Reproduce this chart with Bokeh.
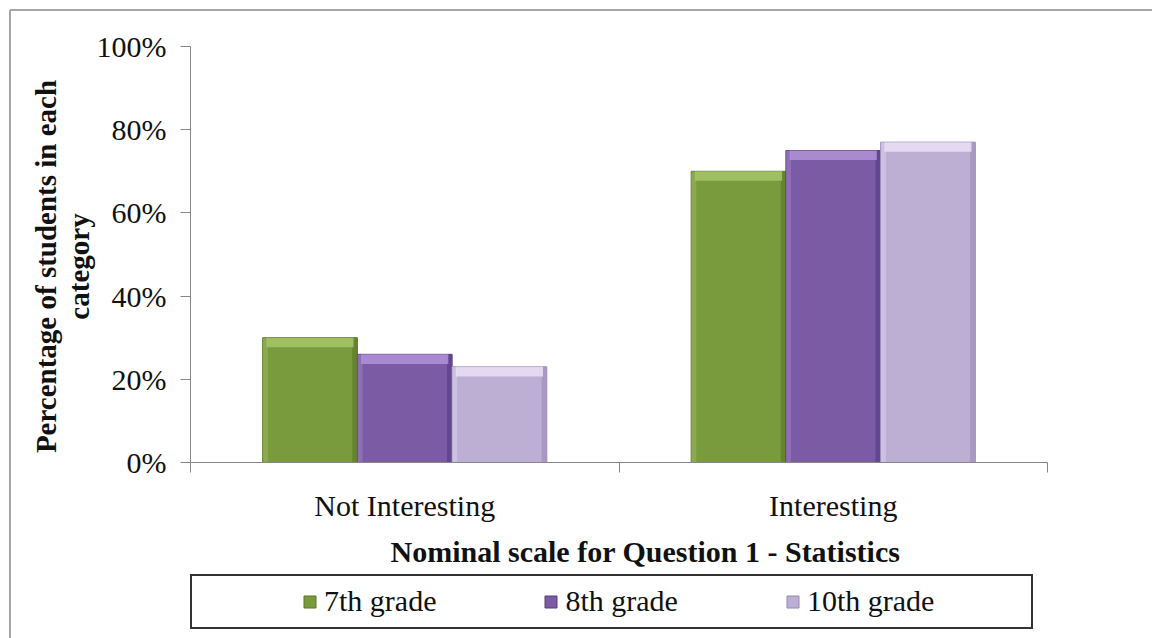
import math
from bokeh.plotting import figure
from bokeh.models import (ColumnDataSource, Range1d, FixedTicker, PrintfTickFormatter,
                          Legend, LegendItem, Label)
from bokeh.transform import dodge
from bokeh.embed import file_html
from bokeh.resources import INLINE

# ---- data ----
categories = ["Not Interesting", "Interesting"]
series = ["7th grade", "8th grade", "10th grade"]
grade7 = [30, 70]
grade8 = [26, 75]
grade10 = [23, 77]
y_ticks = [0, 20, 40, 60, 80, 100]
x_title = "Nominal scale for Question 1 - Statistics"
y_title = "Percentage of students in each\ncategory"

# ---- styles / geometry (pixels) ----
W, H = 1152, 638
AX_L, AX_R, AX_T, AX_B = 190, 1047, 46, 462   # plot area in canvas pixels
colors = ["#7a9a3e", "#7a5ba4", "#bdaed4"]
edge_colors = ["#5a7528", "#573c7c", "#9886b4"]
hi_colors = ["#aac86c", "#b596dc", "#ece4f6"]
dark_colors = ["#66832f", "#634690", "#a999c2"]
FONT = "Liberation Serif"
BAR_W = 0.221
HI = 2.3
EDGE = 0.012

n = len(categories)
x_pos = [i + 0.5 for i in range(n)]
data = dict(x=x_pos, g7=grade7, g8=grade8, g10=grade10)
for k, vals in (("g7", grade7), ("g8", grade8), ("g10", grade10)):
    data[k + "_hi"] = [v - HI for v in vals]
src = ColumnDataSource(data)

# ranges chosen so that the frame fills the canvas and the axes sit at the plot-area edges
xs = n / (AX_R - AX_L)
ys = 100 / (AX_B - AX_T)
x_range = Range1d(-AX_L * xs, n + (W - AX_R) * xs)
y_range = Range1d(-(H - AX_B) * ys, 100 + AX_T * ys)

p = figure(width=W, height=H, x_range=x_range, y_range=y_range,
           output_backend="svg", toolbar_location=None, min_border=0)
p.grid.visible = False
p.outline_line_color = None
p.background_fill_alpha = 0
p.border_fill_alpha = 0
p.styles = {
    "background": "linear-gradient(#a6a6a6,#a6a6a6) 10px 9px / 1142px 2px no-repeat, "
                  "linear-gradient(#a6a6a6,#a6a6a6) 9px 10px / 2px 628px no-repeat, white"
}

fields = ["g7", "g8", "g10"]
offsets = [-BAR_W, 0.0, BAR_W]
bar_renderers = []
for f, off, c, ec, hc, dc in zip(fields, offsets, colors, edge_colors, hi_colors, dark_colors):
    r = p.vbar(x=dodge("x", off), top=f, bottom=0, width=BAR_W, source=src,
               fill_color=c, line_color=ec, line_width=1)
    bar_renderers.append(r)
    # bevel: darker right edge, lighter left edge, light top band
    p.vbar(x=dodge("x", off + BAR_W / 2 - EDGE / 2), top=f, bottom=0, width=EDGE, source=src,
           fill_color=dc, line_color=None)
    p.vbar(x=dodge("x", off - BAR_W / 2 + EDGE / 2), top=f, bottom=0, width=EDGE, source=src,
           fill_color=hc, fill_alpha=0.35, line_color=None)
    p.vbar(x=dodge("x", off), top=f, bottom=f + "_hi", width=BAR_W * 0.92, source=src,
           fill_color=hc, fill_alpha=0.8, line_color=None)

# ---- axes ----
ax = p.xaxis[0]
ax.fixed_location = 0
ax.bounds = (0, n)
ax.ticker = FixedTicker(ticks=x_pos, minor_ticks=list(range(n + 1)))
ax.major_label_overrides = {x: c for x, c in zip(x_pos, categories)}
ax.major_tick_line_color = None
ax.major_tick_out = 0
ax.major_tick_in = 0
ax.minor_tick_out = 10
ax.minor_tick_in = 0
ax.minor_tick_line_color = "#868686"
ax.axis_line_color = "#868686"
ax.major_label_text_font = FONT
ax.major_label_text_font_size = "30px"
ax.major_label_text_color = "#111111"
ax.major_label_standoff = 16

ay = p.yaxis[0]
ay.fixed_location = 0
ay.bounds = (0, 100)
ay.ticker = FixedTicker(ticks=y_ticks, minor_ticks=[])
ay.formatter = PrintfTickFormatter(format="%d%%")
ay.major_tick_out = 10
ay.major_tick_in = 0
ay.major_tick_line_color = "#868686"
ay.axis_line_color = "#868686"
ay.major_label_text_font = FONT
ay.major_label_text_font_size = "30px"
ay.major_label_text_color = "#111111"
ay.major_label_standoff = 14

# ---- titles (screen units, frame == canvas, y measured from bottom) ----
p.add_layout(Label(x=645, y=H - 551, x_units="screen", y_units="screen", text=x_title,
                   text_align="center", text_baseline="middle", text_font=FONT,
                   text_font_style="bold", text_font_size="30px", text_color="#111111"))
p.add_layout(Label(x=62, y=H - 266, x_units="screen", y_units="screen", text=y_title,
                   angle=math.pi / 2, text_align="center", text_baseline="middle",
                   text_font=FONT, text_font_style="bold", text_font_size="29px",
                   text_color="#111111", text_line_height=1.05))

# ---- legend frame + legend ----
dummy = p.scatter(x=[], y=[], fill_alpha=0, line_alpha=0)
box = Legend(items=[LegendItem(label=" ", renderers=[dummy])], location=(190, H - 629),
             padding=0, margin=0, glyph_width=0, glyph_height=51, label_width=839,
             label_height=51, label_standoff=0, border_line_color="#333333",
             border_line_alpha=1, border_line_width=2,
             background_fill_color="white", background_fill_alpha=1,
             label_text_font_size="1px")
p.add_layout(box, "center")

leg = Legend(items=[LegendItem(label=s, renderers=[r]) for s, r in zip(series, bar_renderers)],
             location=(302, H - 618), orientation="horizontal", padding=0, margin=0,
             glyph_width=15, glyph_height=15, label_standoff=7, spacing=107,
             label_text_font=FONT, label_text_font_size="30px", label_text_color="#111111",
             border_line_color=None, background_fill_alpha=0)
p.add_layout(leg, "center")

open("out.html", "w").write(file_html(p, INLINE))
